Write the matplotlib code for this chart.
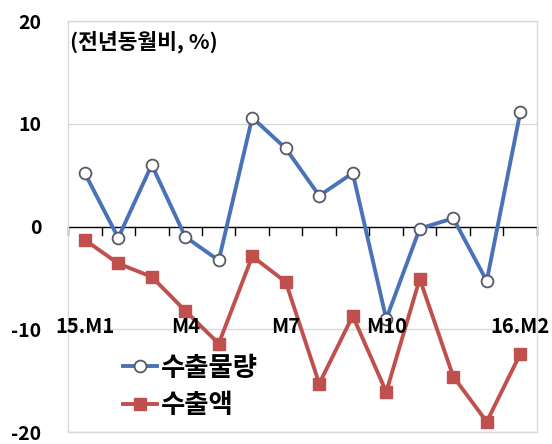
import matplotlib
matplotlib.use("Agg")
import matplotlib.pyplot as plt
from matplotlib.lines import Line2D

plt.rcParams["font.family"] = ["Noto Sans CJK KR", "DejaVu Sans"]

# monthly y/y change, 15.M1 .. 16.M2
months = list(range(14))
volume = [5.2, -1.1, 6.0, -1.0, -3.3, 10.6, 7.6, 3.0, 5.2, -9.0, -0.2, 0.8, -5.3, 11.1]
value = [-1.3, -3.6, -4.9, -8.2, -11.4, -2.9, -5.4, -15.3, -8.7, -16.1, -5.1, -14.6, -19.0, -12.4]
tick_pos = [0, 3, 6, 9, 13]
tick_lab = ["15.M1", "M4", "M7", "M10", "16.M2"]
yticks = [-20, -10, 0, 10, 20]

BLUE = "#4A72B8"
RED = "#C0504D"
GRID = "#D9D9D9"

fig = plt.figure(figsize=(5.52, 4.44), dpi=100)
ax = fig.add_axes([0.1232, 0.027, 0.8496, 0.9257])
ax.set_xlim(-0.5, 13.5)
ax.set_ylim(-20, 20)

for y in [-20, -10, 10, 20]:
    ax.axhline(y, color=GRID, lw=1.0, zorder=0)
ax.axhline(0, color="black", lw=1.0, zorder=1)
for k in range(15):
    ax.plot([k - 0.5, k - 0.5], [0, -0.8], color="black", lw=1.0, zorder=1,
            clip_on=False)

ax.plot(months, volume, "-o", color=BLUE, lw=2.8, ms=8.5, mfc="white",
        mec="#555A66", mew=1.3, zorder=3)
ax.plot(months, value, "-s", color=RED, lw=2.8, ms=8, mfc=RED, mec=RED,
        zorder=2)

for s in ax.spines.values():
    s.set_color(GRID)
    s.set_linewidth(1.0)

ax.set_xticks([])
ax.set_yticks(yticks)
ax.set_yticklabels([str(v) for v in yticks], fontsize=14, fontweight="bold")
ax.tick_params(axis="y", length=0, pad=19)

for p, lab in zip(tick_pos, tick_lab):
    ax.text(p, -9.75, lab, ha="center", va="center", fontsize=14.5,
            fontweight="bold", zorder=4)

ax.text(0.004, 0.95, "(전년동월비, %)", transform=ax.transAxes,
        ha="left", va="center", fontsize=15.5, fontweight="bold")

handles = [
    Line2D([], [], color=BLUE, lw=2.8, marker="o", ms=8.5, mfc="white",
           mec="#555A66", mew=1.3),
    Line2D([], [], color=RED, lw=2.8, marker="s", ms=8, mfc=RED, mec=RED),
]
ax.legend(handles, ["수출물량", "수출액"], loc="center left",
          bbox_to_anchor=(0.117, 0.11), frameon=False, borderpad=0,
          borderaxespad=0, handlelength=1.3, handletextpad=0.15,
          labelspacing=0.4, prop={"size": 19, "weight": "bold"})

fig.savefig("out.png", dpi=100)
